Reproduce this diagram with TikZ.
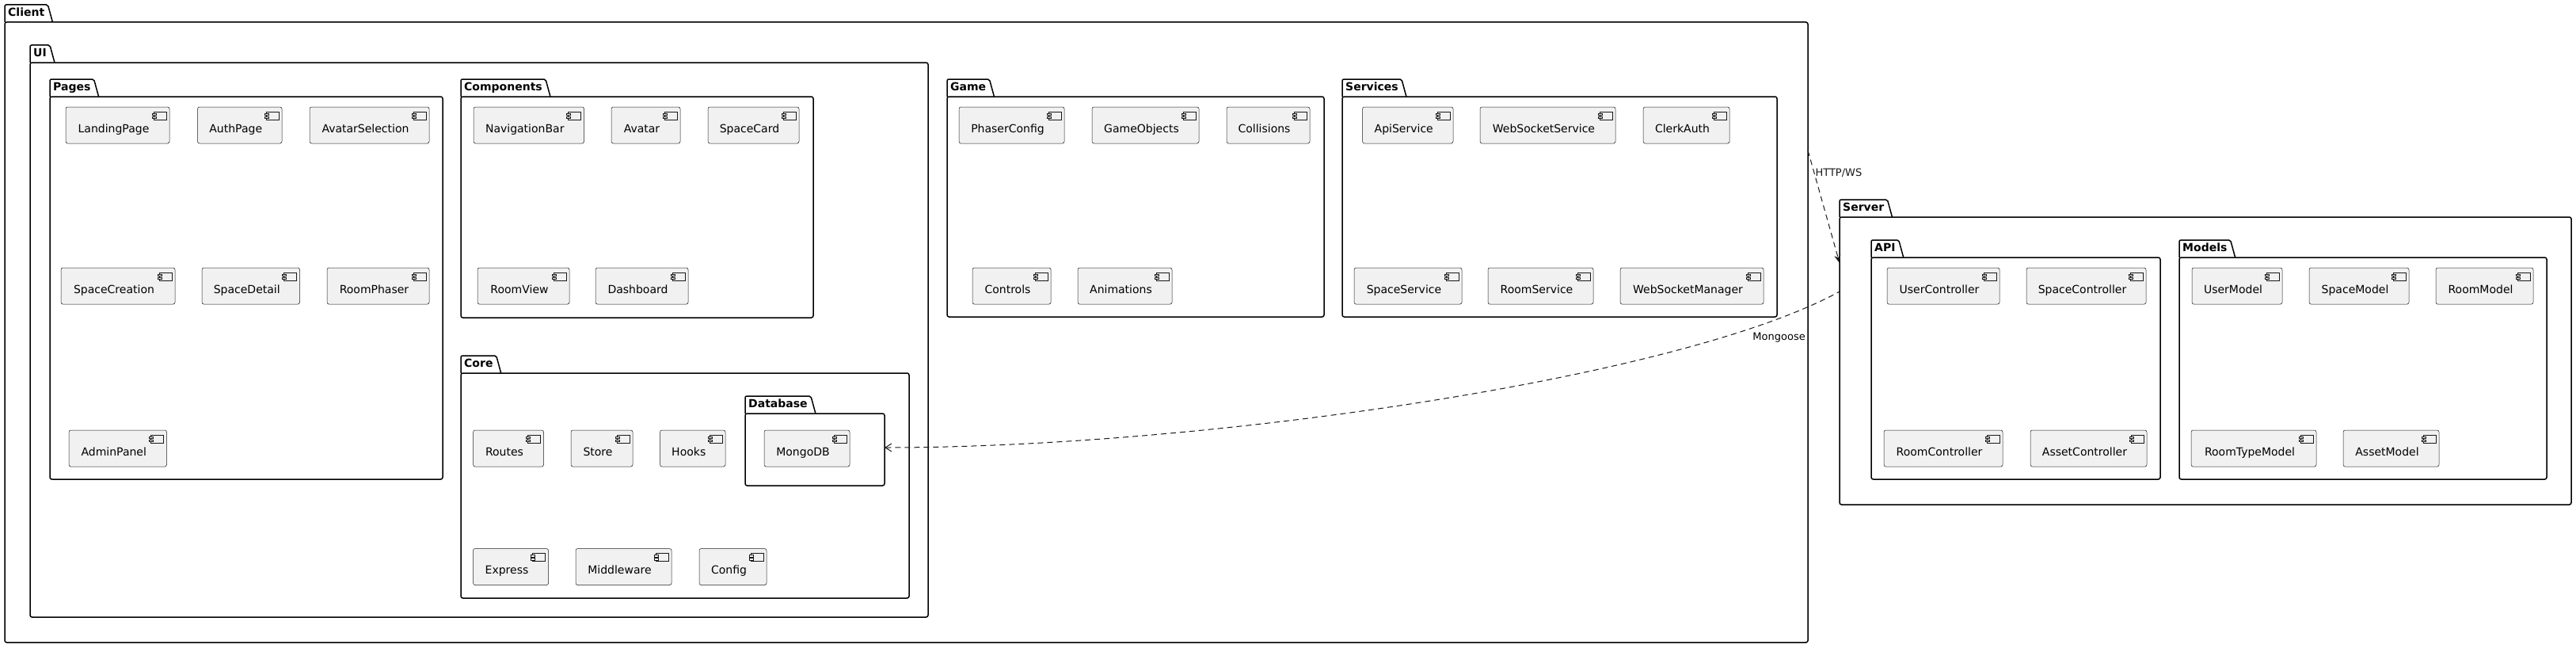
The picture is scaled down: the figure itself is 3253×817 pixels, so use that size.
\documentclass[tikz,border=0pt]{standalone}
\usepackage{fontspec}
\setmainfont{DejaVu Sans}
\usetikzlibrary{arrows.meta}
\definecolor{compfill}{HTML}{F1F1F1}
\definecolor{umlline}{HTML}{181818}
\tikzstyle{pkgbody}=[draw=black, line width=1.5bp, rounded corners=2.5bp, inner sep=0pt, outer sep=0pt]
\tikzstyle{pkgline}=[draw=black, line width=1.5bp, rounded corners=2bp]
\tikzstyle{pkgtitle}=[font=\bfseries\fontsize{14bp}{16bp}\selectfont, inner xsep=4bp, inner ysep=0pt]
\tikzstyle{compbox}=[draw=umlline, fill=compfill, line width=0.5bp, rounded corners=2.5bp, minimum height=46bp, inner sep=0pt, outer sep=0pt]
\tikzstyle{comptext}=[font=\fontsize{14bp}{16bp}\selectfont, inner sep=0pt]
\tikzstyle{compicon}=[draw=umlline, fill=compfill, line width=0.5bp]
\tikzstyle{dep}=[umlline, line width=1bp, dash pattern=on 7bp off 5bp]
\tikzstyle{edgelbl}=[font=\fontsize{13bp}{15bp}\selectfont, inner sep=1bp]
% package: name, left, tab top, right, bottom, title
\newcommand{\umlpkg}[6]{%
  \node[pkgbody, anchor=north west, minimum width=#4bp-#2bp, minimum height=#5bp-#3bp-22bp] (#1) at (#2,#3+22) {};
  \node[pkgtitle, anchor=base west] (#1-t) at (#2,#3+14.5) {#6};
  \draw[pkgline] (#2,#3+22) -- (#2,#3) -- (#1-t.east |- 0,#3) -- ++(6bp,-22bp);
}
% component: name, left, top, right, label
\newcommand{\umlcomp}[5]{%
  \node[compbox, anchor=north west, minimum width=#4bp-#2bp] (#1) at (#2,#3) {};
  \node[comptext, anchor=base] (#1-l) at ([xshift=-5bp,yshift=-9bp]#1.center) {#5};
  \draw[compicon] ([xshift=-20bp,yshift=-6bp]#1.north east) rectangle ++(16bp,-10bp);
  \draw[compicon] ([xshift=-22bp,yshift=-8bp]#1.north east) rectangle ++(5bp,-2.5bp);
  \draw[compicon] ([xshift=-22bp,yshift=-12bp]#1.north east) rectangle ++(5bp,-2.5bp);
}

\begin{document}
\begin{tikzpicture}[x=1bp, y=-1bp]
\useasboundingbox (0,0) rectangle (3253,817);
% Packages
    \umlpkg{client}{6}{6}{2283}{811}{Client}
    \umlpkg{ui}{38}{57}{1172}{779}{UI}
    \umlpkg{pages}{63}{100}{559}{605}{Pages}
    \umlpkg{components}{582}{100}{1027}{401}{Components}
    \umlpkg{core}{582}{449}{1148}{755}{Core}
    \umlpkg{database}{941}{500}{1117}{613}{Database}
    \umlpkg{game}{1196}{100}{1672}{400}{Game}
    \umlpkg{services}{1695}{100}{2244}{400}{Services}
    \umlpkg{server}{2323}{252}{3247}{637}{Server}
    \umlpkg{api}{2363}{303}{2728}{605}{API}
    \umlpkg{models}{2752}{303}{3216}{605}{Models}
% Pages
    \umlcomp{landing}{83}{135}{214}{LandingPage}
    \umlcomp{auth}{249.5}{135}{356}{AuthPage}
    \umlcomp{avatarsel}{391}{135}{542}{AvatarSelection}
    \umlcomp{spacecreation}{77}{338}{221}{SpaceCreation}
    \umlcomp{spacedetail}{255}{338}{378.5}{SpaceDetail}
    \umlcomp{roomphaser}{413}{338}{542}{RoomPhaser}
    \umlcomp{adminpanel}{87}{543}{210.5}{AdminPanel}
% Components
    \umlcomp{navbar}{598}{135}{737.5}{NavigationBar}
    \umlcomp{avatar}{772}{135}{859}{Avatar}
    \umlcomp{spacecard}{894}{135}{1009}{SpaceCard}
    \umlcomp{roomview}{603}{338}{719}{RoomView}
    \umlcomp{dashboard}{752}{338}{869}{Dashboard}
% Core
    \umlcomp{routes}{597.5}{543}{686.5}{Routes}
    \umlcomp{store}{721}{543}{799}{Store}
    \umlcomp{hooks}{833.5}{543}{916}{Hooks}
    \umlcomp{express}{597.5}{692.5}{692.5}{Express}
    \umlcomp{middleware}{727}{692.5}{848}{Middleware}
    \umlcomp{config}{883}{692.5}{968}{Config}
    \umlcomp{mongodb}{965}{543}{1073}{MongoDB}
% Game
    \umlcomp{phaserconfig}{1211}{135}{1344}{PhaserConfig}
    \umlcomp{gameobjects}{1379}{135}{1514}{GameObjects}
    \umlcomp{collisions}{1549}{135}{1654}{Collisions}
    \umlcomp{controls}{1228}{338}{1327}{Controls}
    \umlcomp{animations}{1361}{338}{1480}{Animations}
% Services
    \umlcomp{apiservice}{1720.5}{135}{1835}{ApiService}
    \umlcomp{wsservice}{1869}{135}{2040}{WebSocketService}
    \umlcomp{clerkauth}{2075}{135}{2184}{ClerkAuth}
    \umlcomp{spaceservice}{1710}{338}{1846}{SpaceService}
    \umlcomp{roomservice}{1879}{338}{2012}{RoomService}
    \umlcomp{wsmanager}{2046}{338}{2227}{WebSocketManager}
% API
    \umlcomp{userctrl}{2383}{338}{2525}{UserController}
    \umlcomp{spacectrl}{2559}{338}{2710}{SpaceController}
    \umlcomp{roomctrl}{2379}{543}{2529}{RoomController}
    \umlcomp{assetctrl}{2564}{543}{2711}{AssetController}
% Models
    \umlcomp{usermodel}{2768}{338}{2882}{UserModel}
    \umlcomp{spacemodel}{2916}{338}{3042}{SpaceModel}
    \umlcomp{roommodel}{3076}{338}{3199}{RoomModel}
    \umlcomp{roomtypemodel}{2767}{543}{2925}{RoomTypeModel}
    \umlcomp{assetmodel}{2959}{543}{3080}{AssetModel}
% Dependencies
    \draw[dep, -{Stealth[length=10bp, width=8bp, inset=3bp]}] (client.east |- 0,190) -- (server.west |- 0,332)
        node[edgelbl, pos=0.2, anchor=west] (httplbl) {HTTP/WS};
    \draw[dep, {Straight Barb[length=8bp, width=10bp]}-] (database.east |- 0,565) .. controls (1517,565) and (2123,478) .. (server.west |- 0,368);
    \node[edgelbl, anchor=east] (mongolbl) at (2281,426) {Mongoose};
\end{tikzpicture}
\end{document}
